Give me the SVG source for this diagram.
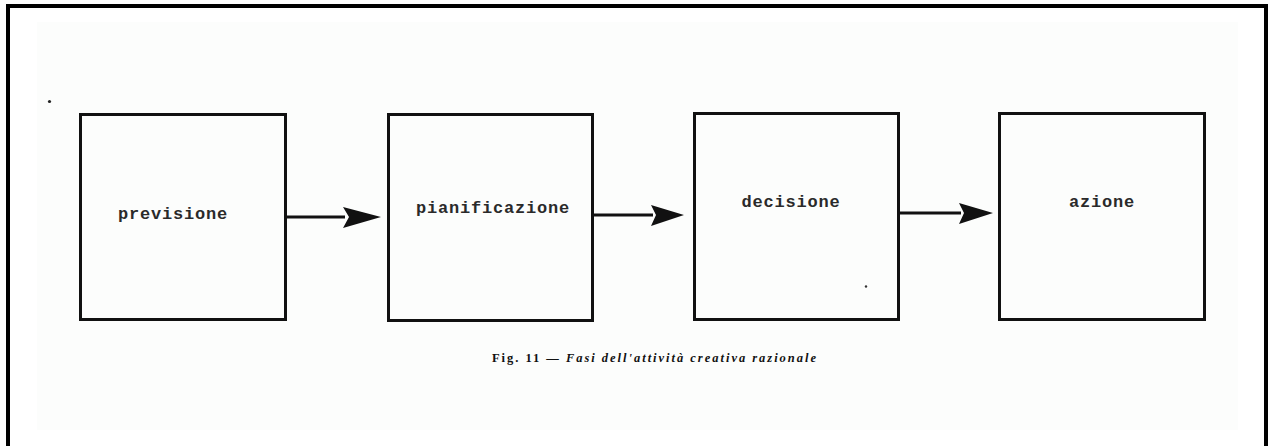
<svg xmlns="http://www.w3.org/2000/svg" width="1268" height="446" viewBox="0 0 1268 446">
<style>
.box{fill:none;stroke:#111;stroke-width:3}
.lbl{font-family:"Liberation Mono","Courier New",monospace;font-size:17px;font-weight:bold;fill:#2a2a2a;letter-spacing:0.8px;text-anchor:middle}
.conn{stroke:#111;stroke-width:3;fill:none}
.cap{font-family:"Liberation Serif","Times New Roman",serif;font-size:12.5px;font-weight:bold;fill:#111}
</style>
<rect x="0" y="0" width="1268" height="446" fill="#fff"/>
<rect x="37" y="22" width="1201" height="408" fill="#fcfdfc"/>
<rect x="8" y="6" width="1258" height="470" fill="none" stroke="#000" stroke-width="4"/>
<g id="n1"><rect class="box" x="80.5" y="114.5" width="205" height="205"/><text class="lbl" x="173" y="219">previsione</text></g>
<g id="n2"><rect class="box" x="388.5" y="114.5" width="204" height="206"/><text class="lbl" x="493" y="213">pianificazione</text></g>
<g id="n3"><rect class="box" x="694.5" y="113.5" width="204" height="206"/><text class="lbl" x="791" y="207">decisione</text></g>
<g id="n4"><rect class="box" x="999.5" y="113.5" width="205" height="206"/><text class="lbl" x="1102" y="207">azione</text></g>
<g id="connectors">
<path d="M287,217 L345,217" class="conn"/><path d="M343,207 L381,217 L343,228 L349,217 Z" fill="#111"/>
<path d="M594,215 L653,215" class="conn"/><path d="M651,205 L684,215 L651,226 L656,215 Z" fill="#111"/>
<path d="M900,213 L961,213" class="conn"/><path d="M959,203 L993,213 L959,224 L964,213 Z" fill="#111"/>
</g>
<text class="cap" x="492" y="362" textLength="324" lengthAdjust="spacing">Fig. 11 — <tspan font-style="italic">Fasi dell'attività creativa razionale</tspan></text>
<circle cx="49.5" cy="101.5" r="1.6" fill="#222"/>
<circle cx="866" cy="286.5" r="1.2" fill="#333"/>
</svg>
